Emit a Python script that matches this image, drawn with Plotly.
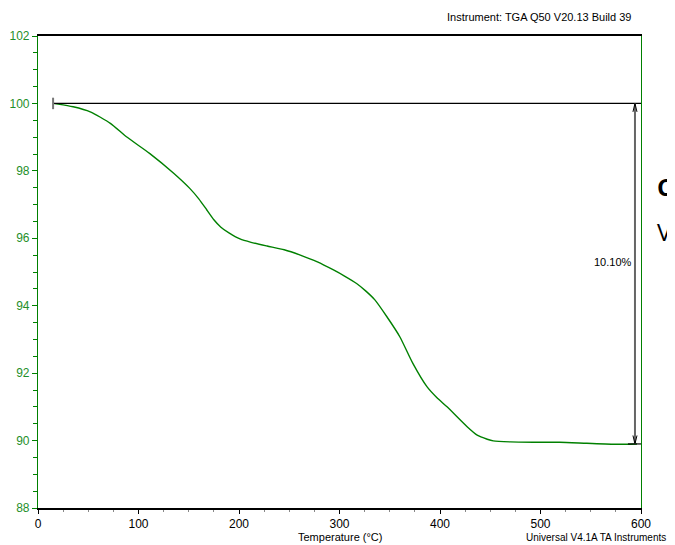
import plotly.graph_objects as go

# ---- data ----
temperature = [15, 20, 35, 52, 72, 88, 111, 135, 151, 160, 168, 175, 182, 190, 201,
               212, 228, 245, 261, 278, 294, 305, 317, 326, 335, 347, 360, 373, 387, 397,
               407, 427, 437, 447, 453, 470, 493, 519, 546, 576, 596]
weight = [100.0, 99.98, 99.90, 99.75, 99.41, 99.01, 98.52, 97.93, 97.48, 97.17, 96.84,
          96.55, 96.33, 96.16, 95.98, 95.88, 95.77, 95.66, 95.50, 95.30, 95.06, 94.88,
          94.66, 94.44, 94.18, 93.68, 93.08, 92.29, 91.60, 91.27, 91.00, 90.41, 90.16,
          90.04, 89.99, 89.96, 89.95, 89.95, 89.92, 89.89, 89.90]

x_ticks = [0, 100, 200, 300, 400, 500, 600]
y_ticks = [88, 90, 92, 94, 96, 98, 100, 102]

step_x = 594          # temperature of the step-change marker
step_label = "10.10%"
step_top = weight[0]
step_bottom = round(weight[0] - 10.10, 2)

GREEN = "#008000"
LABEL_GREEN = "#1f8f2a"
FONT = "Liberation Sans Narrow, Arial Narrow, Liberation Sans, Arial"

W, H = 675, 545
OFF = 8  # page body offset
ML, MT, MR, MB = 38 - OFF, 36 - OFF, 34 + OFF, 37 + OFF

fig = go.Figure()

fig.add_trace(go.Scatter(x=temperature, y=weight, mode="lines",
                         line=dict(color=GREEN, width=1.4, shape="spline", smoothing=0.6),
                         hoverinfo="skip"))
fig.add_trace(go.Scatter(x=[temperature[0], x_ticks[-1]], y=[step_top, step_top], mode="lines",
                         line=dict(color="black", width=1.2), hoverinfo="skip"))
fig.add_trace(go.Scatter(x=[temperature[0], temperature[0]], y=[step_top - 0.17, step_top + 0.17],
                         mode="lines", line=dict(color="#777777", width=2), hoverinfo="skip"))
fig.add_trace(go.Scatter(x=[step_x - 7, x_ticks[-1]], y=[step_bottom, step_bottom], mode="lines",
                         line=dict(color="black", width=1.2), hoverinfo="skip"))
fig.add_trace(go.Scatter(x=[step_x, step_x], y=[step_top, step_bottom], mode="lines",
                         line=dict(color="#666666", width=2), hoverinfo="skip"))
fig.add_trace(go.Scatter(x=[step_x - 2, step_x, step_x + 2], y=[step_top - 0.25, step_top, step_top - 0.25],
                         mode="lines", line=dict(color="black", width=1), hoverinfo="skip"))
fig.add_trace(go.Scatter(x=[step_x - 2, step_x, step_x + 2], y=[step_bottom + 0.25, step_bottom, step_bottom + 0.25],
                         mode="lines", line=dict(color="black", width=1), hoverinfo="skip"))

fig.update_layout(
    width=W, height=H,
    margin=dict(l=ML, r=MR, t=MT, b=MB, autoexpand=False),
    paper_bgcolor="white", plot_bgcolor="white",
    showlegend=False,
    font=dict(family=FONT, size=12, color="black"),
    xaxis=dict(range=[0, 600], tickvals=x_ticks, ticks="outside", ticklen=4, tickcolor="black",
               showline=True, linecolor="black", linewidth=1.5, mirror=True, showgrid=False,
               zeroline=False, automargin=False,
               tickfont=dict(family=FONT, size=12, color="black"),
               minor=dict(dtick=25, ticks="outside", ticklen=2, tickcolor="#888888")),
    yaxis=dict(range=[88, 102], tickvals=y_ticks, ticks="outside", ticklen=5, tickcolor=GREEN,
               showline=True, linecolor=GREEN, linewidth=1.2, mirror=True, showgrid=False,
               zeroline=False, automargin=False,
               tickfont=dict(family=FONT, size=12, color=LABEL_GREEN),
               minor=dict(dtick=0.5, ticks="outside", ticklen=4, tickcolor=GREEN)),
)

pw, ph = W - ML - MR, H - MT - MB


def px(xp):
    return (xp - OFF - ML) / pw


def py(yp):
    return 1 - (yp - OFF - MT) / ph


fig.add_annotation(x=step_x, y=95.3, xref="x", yref="y", text=step_label, showarrow=False,
                   xanchor="right", yanchor="middle", xshift=-1,
                   font=dict(family=FONT, size=11, color="black"))
fig.add_annotation(x=px(633), y=py(9), xref="paper", yref="paper",
                   text="Instrument: TGA Q50 V20.13 Build 39", showarrow=False,
                   xanchor="right", yanchor="top",
                   font=dict(family=FONT, size=11, color="black"))
fig.add_annotation(x=px(340), y=py(545), xref="paper", yref="paper",
                   text="Temperature (°C)", showarrow=False, xanchor="center", yanchor="bottom",
                   font=dict(family=FONT, size=11, color="black"))
fig.add_annotation(x=px(668), y=py(545), xref="paper", yref="paper",
                   text="Universal V4.1A TA Instruments", showarrow=False, xanchor="right", yanchor="bottom",
                   font=dict(family=FONT, size=10, color="black"))
fig.add_annotation(x=px(655), y=py(186), xref="paper", yref="paper",
                   text="<b>C</b>", showarrow=False, xanchor="left", yanchor="middle",
                   font=dict(family="Open Sans, Liberation Sans", size=24, color="black"))
fig.add_annotation(x=px(655), y=py(231), xref="paper", yref="paper",
                   text="V", showarrow=False, xanchor="left", yanchor="middle",
                   font=dict(family="Open Sans, Liberation Sans", size=24, color="black"))

fig.write_html("out.html")
